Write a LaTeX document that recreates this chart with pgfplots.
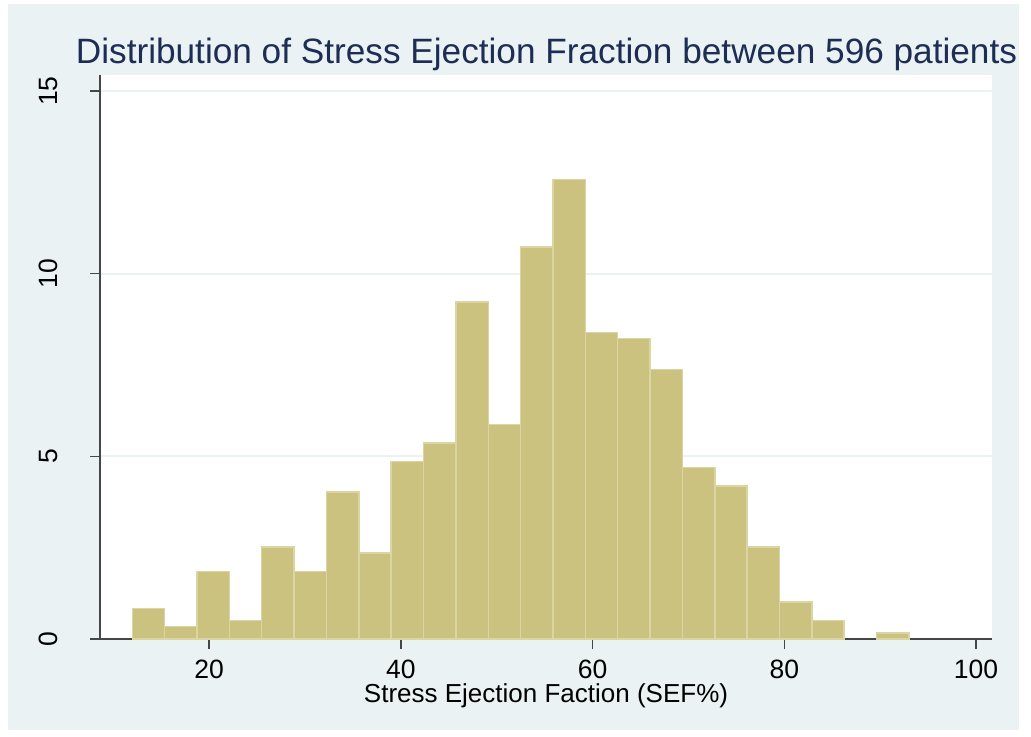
\documentclass[border=0pt]{standalone}
\usepackage{fontspec}
\setmainfont{Liberation Sans}
\usepackage{pgfplots}
\pgfplotsset{compat=1.18}
\definecolor{bgcol}{RGB}{234,242,243}
\definecolor{barfill}{RGB}{202,194,126}
\definecolor{barline}{RGB}{218,213,162}
\definecolor{titlecol}{RGB}{30,45,85}
\definecolor{axiscol}{RGB}{70,70,70}
\begin{document}
\begin{tikzpicture}
\fill[white] (0,0) rectangle (515.5pt,368pt);
\useasboundingbox (0,0) rectangle (515.5pt,368pt);
\fill[bgcol] (4pt,3pt) rectangle (509.5pt,366pt);
\begin{axis}[
  at={(50pt,48.5pt)}, anchor=south west,
  scale only axis, width=446pt, height=282pt,
  xmin=8.63, xmax=101.67, ymin=0, ymax=15.44,
  axis x line*=bottom, axis y line*=left,
  axis line style={-, draw=axiscol, line width=0.75pt},
  axis background/.style={fill=white},
  xtick={20,40,60,80,100}, ytick={0,5,10,15},
  tick align=outside, major tick length=5pt,
  tick style={draw=axiscol, line width=0.75pt},
  ymajorgrids, grid style={draw=bgcol, line width=0.9pt},
  /pgf/number format/assume math mode=true,
  tick label style={font=\fontsize{13.25}{15}\selectfont, text=black},
  xticklabel style={anchor=north, inner sep=0pt, yshift=-5.5pt},
  yticklabel style={rotate=90, anchor=south, inner sep=0pt},
  yticklabel shift=15.75pt,
  xlabel={Stress Ejection Faction (SEF\%)},
  xlabel style={font=\fontsize{13}{15}\selectfont, at={(axis description cs:0.5,0)}, anchor=base, yshift=-31.5pt},
]
\addplot[ybar, bar width=3.375, fill=barfill, draw=barline, line width=0.75pt] coordinates {
(13.6875,0.839) (17.0625,0.336) (20.4375,1.846) (23.8125,0.503)
(27.1875,2.517) (30.5625,1.846) (33.9375,4.027) (37.3125,2.349)
(40.6875,4.866) (44.0625,5.369) (47.4375,9.228) (50.8125,5.872)
(54.1875,10.738) (57.5625,12.584) (60.9375,8.389) (64.3125,8.221)
(67.6875,7.383) (71.0625,4.698) (74.4375,4.195) (77.8125,2.517)
(81.1875,1.007) (84.5625,0.503) (91.3125,0.168)
};
\end{axis}
\node[anchor=base, text=titlecol, font=\fontsize{17.6}{20}\selectfont, inner sep=0pt] at (273.25pt,336.5pt) {Distribution of Stress Ejection Fraction between 596 patients};
\end{tikzpicture}
\end{document}
